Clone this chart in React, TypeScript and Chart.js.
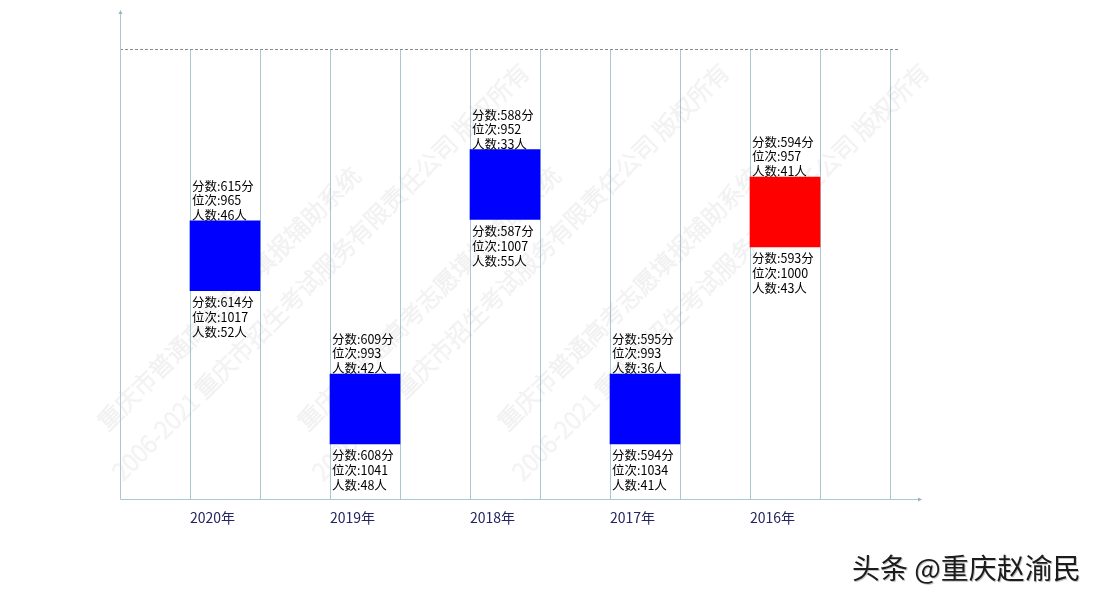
import React, { useEffect, useRef } from "react";
import { Chart, registerables } from "chart.js";

Chart.register(...registerables);

// ---- data ----
const years = ["2020年", "2019年", "2018年", "2017年", "2016年"];
const upperScore = [615, 609, 588, 595, 594];
const upperRank = [965, 993, 952, 993, 957];
const upperCount = [46, 42, 33, 36, 41];
const lowerScore = [614, 608, 587, 594, 593];
const lowerRank = [1017, 1041, 1007, 1034, 1000];
const lowerCount = [52, 48, 55, 41, 43];
const barColors = ["#0000ff", "#0000ff", "#0000ff", "#0000ff", "#ff0000"];

// box height in rank units (the original draws a fixed-size box from the upper rank)
const BOX_SPAN = 12.75;
const Y_MIN = 933.6;
const Y_MAX = 1015.8;
const SLOT_COUNT = 11;

const WM_LINE1 = "重庆市普通高考志愿填报辅助系统";
const WM_LINE2 = "2006-2021 重庆市招生考试服务有限责任公司 版权所有";
const SIGNATURE = "头条 @重庆赵渝民";

const AXIS_COLOR = "#a9c8d3";
const LABEL_FONT = '12.5px "Noto Sans CJK SC", "Noto Sans", sans-serif';

const decorPlugin = {
  id: "decor",
  beforeDatasetsDraw(chart: any) {
    const ctx = chart.ctx;
    // watermark
    ctx.save();
    ctx.font = '300 24px "Noto Sans CJK SC", sans-serif';
    ctx.textBaseline = "alphabetic";
    ctx.textAlign = "left";
    ctx.strokeStyle = "rgba(150,150,150,0.13)";
    ctx.lineWidth = 1;
    for (let k = 0; k < 3; k++) {
      ctx.save();
      ctx.translate(108 + 200 * k, 432);
      ctx.rotate(-Math.PI / 4);
      ctx.strokeText(WM_LINE1, 0, 0);
      ctx.strokeText(WM_LINE2, -25, 46);
      ctx.restore();
    }
    ctx.restore();
  },
  afterDatasetsDraw(chart: any) {
    const ctx = chart.ctx;
    const meta = chart.getDatasetMeta(0);
    ctx.save();
    ctx.font = LABEL_FONT;
    ctx.fillStyle = "#000";
    ctx.textAlign = "left";
    ctx.textBaseline = "middle";
    meta.data.forEach((el: any, i: number) => {
      const top = Math.min(el.y, el.base);
      const bottom = Math.max(el.y, el.base);
      const left = el.x - el.width / 2 + 2;
      const up = [
        `分数:${upperScore[i]}分`,
        `位次:${upperRank[i]}`,
        `人数:${upperCount[i]}人`,
      ];
      const low = [
        `分数:${lowerScore[i]}分`,
        `位次:${lowerRank[i]}`,
        `人数:${lowerCount[i]}人`,
      ];
      up.forEach((t, j) => {
        ctx.fillText(t, left, top - 5.7 - (2 - j) * 14.6);
      });
      low.forEach((t, j) => {
        ctx.fillText(t, left, bottom + 11.5 + j * 15);
      });
    });
    ctx.restore();
  },
  afterDraw(chart: any) {
    const ctx = chart.ctx;
    const { left, right, top, bottom } = chart.chartArea;
    ctx.save();
    // dashed top line
    ctx.strokeStyle = "#8a8a8a";
    ctx.lineWidth = 1;
    ctx.setLineDash([3, 2]);
    ctx.beginPath();
    ctx.moveTo(left, Math.round(top) + 0.5);
    ctx.lineTo(right + 10, Math.round(top) + 0.5);
    ctx.stroke();
    ctx.setLineDash([]);
    // axes
    ctx.strokeStyle = AXIS_COLOR;
    const ax = Math.round(left) + 0.5;
    const ay = Math.round(bottom) + 0.5;
    ctx.beginPath();
    ctx.moveTo(ax, ay);
    ctx.lineTo(ax, 12);
    ctx.moveTo(ax, ay);
    ctx.lineTo(right + 30, ay);
    ctx.stroke();
    ctx.fillStyle = "#9fb2ba";
    ctx.beginPath();
    ctx.moveTo(ax - 2, 14);
    ctx.lineTo(ax + 2, 14);
    ctx.lineTo(ax, 10);
    ctx.closePath();
    ctx.fill();
    ctx.beginPath();
    ctx.moveTo(right + 28, ay - 2);
    ctx.lineTo(right + 28, ay + 2);
    ctx.lineTo(right + 32, ay);
    ctx.closePath();
    ctx.fill();
    // signature
    ctx.font = '28px "Noto Sans CJK SC", sans-serif';
    ctx.textAlign = "left";
    ctx.textBaseline = "middle";
    ctx.fillStyle = "#c4c4c4";
    ctx.fillText(SIGNATURE, 853, 569);
    ctx.fillStyle = "#1c1c1c";
    ctx.fillText(SIGNATURE, 852, 568);
    ctx.restore();
  },
};

export default function App() {
  const ref = useRef<HTMLCanvasElement | null>(null);
  useEffect(() => {
    if (!ref.current) return;
    const chart = new Chart(ref.current, {
      type: "bar",
      data: {
        datasets: [
          {
            data: years.map((_, i) => ({
              x: 2 * i + 1.5,
              y: [upperRank[i], upperRank[i] + BOX_SPAN],
            })) as any,
            backgroundColor: barColors,
            borderWidth: 0,
            barPercentage: 1,
            categoryPercentage: 1,
          },
        ],
      },
      options: {
        animation: false,
        responsive: false,
        layout: { padding: { left: 120, right: 210, top: 49, bottom: 64.4 } },
        plugins: { legend: { display: false }, tooltip: { enabled: false } },
        scales: {
          x: {
            type: "linear",
            min: 0,
            max: SLOT_COUNT,
            offset: false,
            afterBuildTicks: (axis: any) => {
              axis.ticks = Array.from({ length: SLOT_COUNT + 1 }, (_, v) => ({ value: v }));
            },
            grid: { color: AXIS_COLOR, lineWidth: 1, drawTicks: false, offset: false },
            border: { display: false },
            ticks: {
              autoSkip: false,
              align: "start",
              padding: 10,
              color: "#24245e",
              font: { size: 14, family: '"Noto Sans CJK SC", "Noto Sans", sans-serif' },
              callback: (value: any) => {
                const v = Number(value);
                if (v % 2 === 1) return years[(v - 1) / 2] ?? "";
                return "";
              },
            },
          },
          y: {
            type: "linear",
            reverse: true,
            min: Y_MIN,
            max: Y_MAX,
            display: false,
          },
        },
      } as any,
      plugins: [decorPlugin],
    });
    return () => chart.destroy();
  }, []);
  return (
    <div style={{ position: "fixed", left: 0, top: 0, width: 1100, height: 600, background: "#fff" }}>
      <canvas ref={ref} width={1100} height={600} style={{ display: "block" }} />
    </div>
  );
}
